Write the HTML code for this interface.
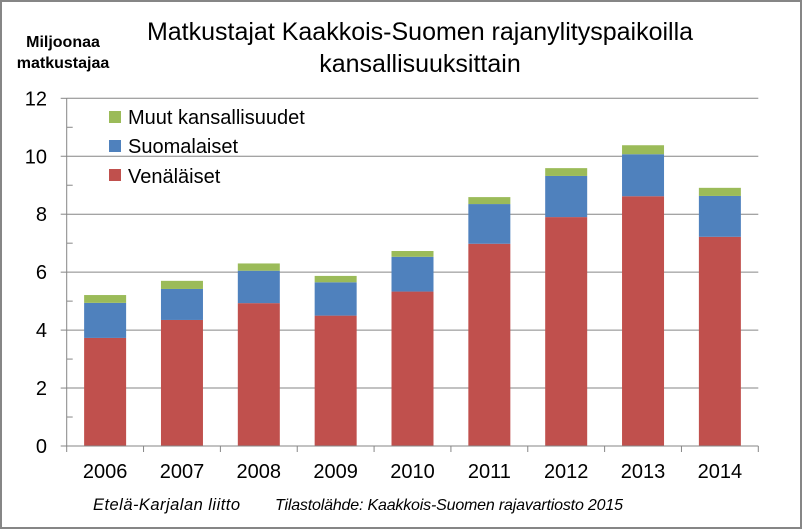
<!DOCTYPE html>
<html><head><meta charset="utf-8"><style>
html,body{margin:0;padding:0;background:#fff}
svg{display:block;font-family:"Liberation Sans",sans-serif}
</style></head><body>
<svg id="chart" width="802" height="529" viewBox="0 0 802 529">
<rect x="1" y="1" width="800" height="527" fill="#fff" stroke="#868686" stroke-width="2"/>
<text x="63" y="47" font-size="16" font-weight="bold" text-anchor="middle">Miljoonaa</text>
<text x="63" y="68" font-size="16" font-weight="bold" text-anchor="middle">matkustajaa</text>
<text x="420" y="40" font-size="25" text-anchor="middle">Matkustajat Kaakkois-Suomen  rajanylityspaikoilla</text>
<text x="420" y="72" font-size="25" text-anchor="middle">kansallisuuksittain</text>
<g id="grid"></g><g id="bars"></g><g id="axes"></g>
<g>
<rect x="109" y="111" width="12" height="12" fill="#9BBB59"/>
<text x="128" y="124" font-size="20">Muut kansallisuudet</text>
<rect x="109" y="140" width="12" height="12" fill="#4F81BD"/>
<text x="128" y="153" font-size="20">Suomalaiset</text>
<rect x="109" y="169" width="12" height="12" fill="#C0504D"/>
<text x="128" y="183" font-size="20">Venäläiset</text>
</g>
<text x="93" y="510" font-size="16.5" font-style="italic" textLength="147">Etelä-Karjalan liitto</text>
<text x="275" y="510" font-size="16" font-style="italic" textLength="348">Tilastolähde: Kaakkois-Suomen rajavartiosto 2015</text>
</svg>
<script>
const categories=["2006","2007","2008","2009","2010","2011","2012","2013","2014"];
const venalaiset=[3.73,4.35,4.93,4.5,5.33,6.98,7.9,8.62,7.22];
const suomalaiset=[1.21,1.07,1.12,1.15,1.2,1.37,1.42,1.45,1.41];
const muut=[0.27,0.28,0.25,0.22,0.2,0.24,0.27,0.31,0.28];
const yTicks=[0,2,4,6,8,10,12];
const NS="http://www.w3.org/2000/svg";
const x0=66.7,x1=758.3,y0=446,yTop=98.3,yMax=12;
const bw=(x1-x0)/categories.length, barW=42;
const Y=v=>y0-(v/yMax)*(y0-yTop);
const X=i=>x0+bw*i+bw/2;
function mk(tag,attrs,parent){const e=document.createElementNS(NS,tag);for(const k in attrs)e.setAttribute(k,attrs[k]);parent.appendChild(e);return e;}
const grid=document.getElementById('grid'),bars=document.getElementById('bars'),axes=document.getElementById('axes');
yTicks.forEach(t=>{
 if(t>0){const l=mk('line',{x1:x0,x2:x1,y1:Y(t),y2:Y(t),stroke:'#868686','stroke-width':1},grid);
 
 }
 const tl=mk('line',{x1:x0-6,x2:x0,y1:Y(t),y2:Y(t),stroke:'#868686'},axes);
 
 
 const tx=mk('text',{x:47,y:Y(t)+7,'font-size':20,'text-anchor':'end'},axes);
 tx.textContent=t;
 
 
 if(t<yMax){const m=mk('line',{x1:x0,x2:x0+6,y1:Y(t+1),y2:Y(t+1),stroke:'#868686'},axes);
 
 }
});
const ya=mk('line',{x1:x0,x2:x0,y1:yTop,y2:y0,stroke:'#868686'},axes);


const xa=mk('line',{x1:x0,x2:x1,y1:y0,y2:y0,stroke:'#868686'},axes);


for(let i=0;i<=categories.length;i++){
 const t=mk('line',{x1:x0+bw*i,x2:x0+bw*i,y1:y0,y2:y0+6,stroke:'#868686'},axes);
 
 
}
categories.forEach((c,i)=>{
 const series=[[venalaiset[i],'#C0504D','venalaiset'],[suomalaiset[i],'#4F81BD','suomalaiset'],[muut[i],'#9BBB59','muut']];
 let base=0;
 series.forEach(([v,col,n])=>{
  const r=mk('rect',{x:X(i)-barW/2,y:Y(base+v),width:barW,height:Y(base)-Y(base+v),fill:col},bars);
  
  
  base+=v;
 });
 const tx=mk('text',{x:X(i),y:478,'font-size':20,'text-anchor':'middle'},axes);
 tx.textContent=c;
 
 
});
</script>
</body></html>
